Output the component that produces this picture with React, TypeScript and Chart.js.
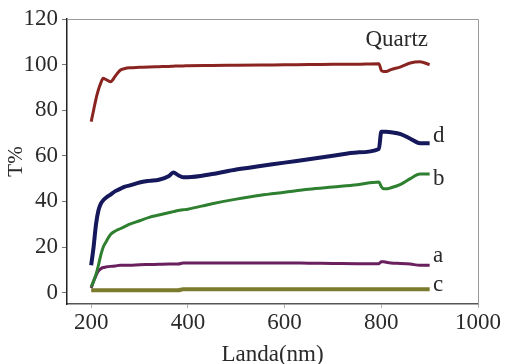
import React, { useEffect, useRef } from "react";
import { Chart, registerables } from "chart.js";

Chart.register(...registerables);

const wavelengths = [200, 205, 210, 215, 220, 225, 230, 240, 250, 260, 270, 280, 300, 320, 340, 360, 370, 380, 390, 400, 450, 500, 550, 600, 650, 700, 750, 795, 800, 805, 810, 820, 840, 860, 880, 900];

const quartz = [75, 80, 85, 89, 92, 94, 93.5, 92.5, 95, 97.5, 98.3, 98.6, 98.8, 99, 99.1, 99.2, 99.3, 99.4, 99.4, 99.5, 99.6, 99.7, 99.8, 99.9, 100, 100.1, 100.2, 100.4, 97.5, 97, 97, 97.8, 99, 100.7, 101.2, 100];
const seriesD = [12, 20, 30, 36, 39, 40.5, 41.5, 43, 44.5, 45.5, 46.5, 47, 48.3, 49, 49.5, 51, 52.7, 51.5, 50.6, 50.6, 52, 54, 55.5, 57, 58.5, 60, 61.5, 63, 70.5, 70.5, 70.5, 70.3, 69.5, 67.5, 65.5, 65.5];
const seriesB = [2.5, 5, 8, 12, 16.5, 20, 22, 25.5, 27, 28, 29, 30, 31.5, 33, 34, 35, 35.5, 36, 36.3, 36.6, 39, 41, 42.7, 44, 45.3, 46.3, 47.3, 48.5, 46.5, 45.5, 45.5, 46, 47.5, 50, 52, 52];
const seriesA = [2, 5, 7.5, 9.5, 10.5, 11, 11.2, 11.5, 11.7, 12, 12, 12, 12.2, 12.3, 12.4, 12.5, 12.5, 12.5, 13, 13, 13, 13, 13, 13, 12.9, 12.8, 12.7, 12.7, 13.5, 13.5, 13.3, 13, 12.8, 12.5, 12, 12];
const seriesC = [1, 1, 1, 1, 1, 1, 1, 1, 1, 1, 1, 1, 1, 1, 1, 1, 1, 1, 1.5, 1.5, 1.5, 1.5, 1.5, 1.5, 1.5, 1.5, 1.5, 1.5, 1.5, 1.5, 1.5, 1.5, 1.5, 1.5, 1.5, 1.5];

const xTickValues = [200, 400, 600, 800, 1000];
const yTickValues = [0, 20, 40, 60, 80, 100, 120];

const seriesLabels = ["Quartz", "d", "b", "a", "c"];
const labelAnchorX = [832, 907, 907, 907, 907];
const labelAnchorY = [111, 68.5, 50, 16, 3.5];

const FONT = "'Liberation Serif', 'Times New Roman', serif";
const FS = 23;

const toPoints = (vals: number[]) => wavelengths.map((w, i) => ({ x: w, y: vals[i] }));

const frameAndLabels = {
  id: "frameAndLabels",
  beforeDatasetsDraw(chart: any) {
    const { ctx, chartArea } = chart;
    ctx.save();
    ctx.strokeStyle = "#9a9a9a";
    ctx.lineWidth = 1;
    ctx.beginPath();
    ctx.moveTo(chartArea.left, chartArea.top + 0.5);
    ctx.lineTo(chartArea.right + 0.5, chartArea.top + 0.5);
    ctx.lineTo(chartArea.right + 0.5, chartArea.bottom);
    ctx.stroke();
    ctx.restore();
  },
  afterDatasetsDraw(chart: any) {
    const { ctx, scales } = chart;
    ctx.save();
    ctx.fillStyle = "#2a2a2a";
    ctx.font = `${FS}px ${FONT}`;
    ctx.textBaseline = "middle";
    seriesLabels.forEach((t, i) => {
      const px = scales.x.getPixelForValue(labelAnchorX[i]);
      const py = scales.y.getPixelForValue(labelAnchorY[i]);
      ctx.textAlign = i === 0 ? "center" : "left";
      ctx.fillText(t, px, py);
    });
    ctx.restore();
  },
};

export default function App() {
  const ref = useRef<HTMLCanvasElement>(null);
  useEffect(() => {
    if (!ref.current) return;
    const mk = (label: string, vals: number[], color: string, w: number) => ({
      label,
      data: toPoints(vals),
      borderColor: color,
      backgroundColor: color,
      borderWidth: w,
      pointRadius: 0,
      fill: false,
      cubicInterpolationMode: "monotone" as const,
    });
    const chart = new Chart(ref.current, {
      type: "line",
      data: {
        datasets: [
          mk("Quartz", quartz, "#8a2420", 3),
          mk("d", seriesD, "#15185a", 4),
          mk("b", seriesB, "#2e8030", 3),
          mk("a", seriesA, "#6a1f5e", 3),
          mk("c", seriesC, "#7c7a2c", 4),
        ],
      },
      options: {
        animation: false,
        responsive: false,
        layout: { padding: { left: 0, top: 19, right: 31, bottom: 0 } },
        plugins: { legend: { display: false }, tooltip: { enabled: false } },
        scales: {
          x: {
            type: "linear",
            min: 150,
            max: 1000,
            afterBuildTicks: (s: any) => {
              s.ticks = xTickValues.map((v) => ({ value: v }));
            },
            afterFit: (s: any) => {
              s.height = 60;
            },
            grid: { drawOnChartArea: false, drawTicks: true, tickLength: 4, color: "#b0b0b0" },
            border: { display: true, color: "#555", width: 1.5 },
            ticks: {
              color: "#2a2a2a",
              padding: 1,
              maxRotation: 0,
              autoSkip: false,
              font: { family: FONT, size: FS },
              callback: (v: any) => String(v),
            },
            title: {
              display: true,
              text: "Landa(nm)",
              color: "#2a2a2a",
              font: { family: FONT, size: FS, lineHeight: 1 },
              padding: { top: 0, bottom: -2 },
            },
          },
          y: {
            min: -5,
            max: 120,
            afterBuildTicks: (s: any) => {
              s.ticks = yTickValues.map((v) => ({ value: v }));
            },
            afterFit: (s: any) => {
              s.width = 67;
            },
            grid: { drawOnChartArea: false, drawTicks: true, tickLength: 5, color: "#777" },
            border: { display: true, color: "#222", width: 1.5 },
            ticks: {
              color: "#2a2a2a",
              padding: 4,
              autoSkip: false,
              font: { family: FONT, size: FS },
              callback: (v: any) => String(v),
            },
            title: {
              display: true,
              text: "T%",
              color: "#2a2a2a",
              font: { family: FONT, size: 21, lineHeight: 1 },
              padding: { top: 6, bottom: 0 },
            },
          },
        },
      },
      plugins: [frameAndLabels],
    });
    return () => chart.destroy();
  }, []);
  return (
    <div style={{ position: "absolute", left: 0, top: 0, width: 509, height: 364, background: "#fff" }}>
      <canvas ref={ref} width={509} height={364} style={{ display: "block" }} />
    </div>
  );
}
